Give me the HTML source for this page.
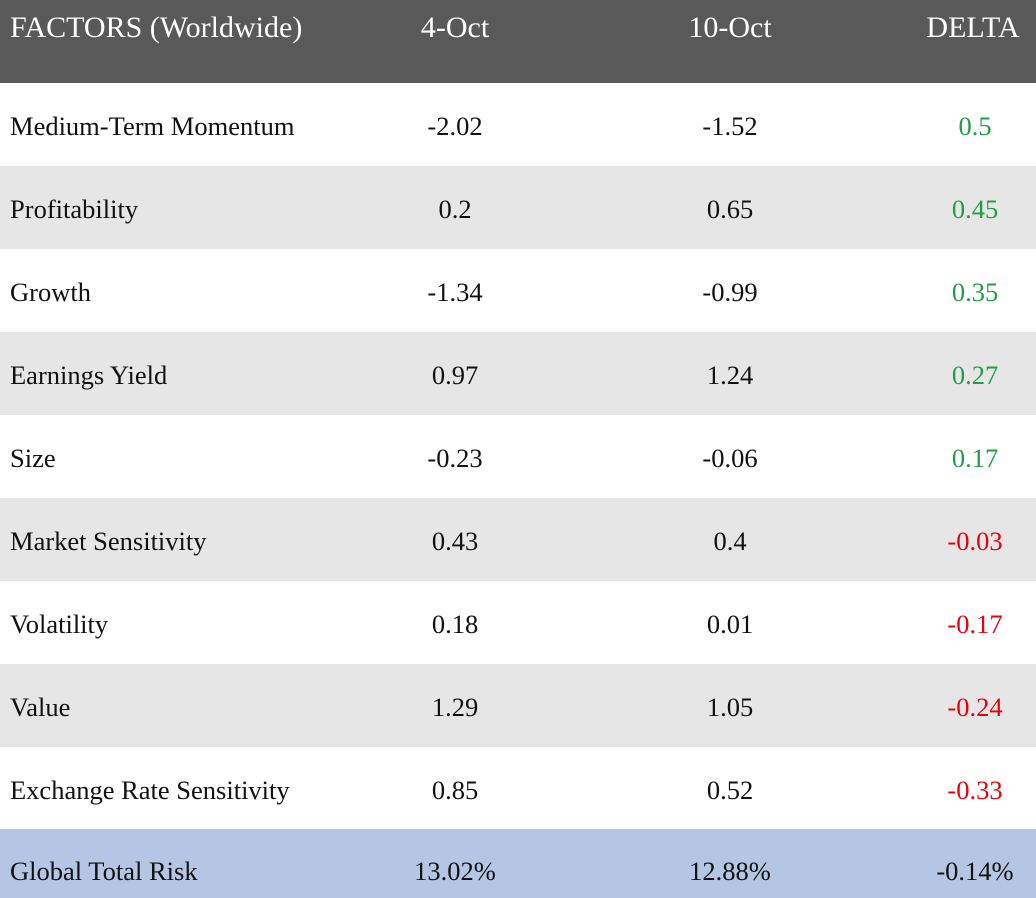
<!DOCTYPE html>
<html><head><meta charset="utf-8">
<style>
html,body{margin:0;padding:0;width:1036px;height:898px;overflow:hidden;background:#fff;position:relative}
.row{position:absolute;left:0;width:1036px;height:83px;font-family:"Liberation Serif",serif;font-size:26.5px;color:#111}
.alt{background:#e6e6e6}
.hdr{background:#595959;color:#fff;font-size:30px;top:0;height:83px}
.total{background:#b4c6e4;height:70px}
.row span{position:absolute;white-space:nowrap;line-height:30px}
.c1{left:10px}
.c2{left:355px;width:200px;text-align:center}
.c3{left:630px;width:200px;text-align:center}
.c4{left:875px;width:200px;text-align:center}
.g{color:#1f9e45}.r{color:#e8000b}
</style></head><body>
<div class="row hdr">
<span class="c1" style="top:13px">FACTORS (Worldwide)</span>
<span class="c2" style="top:13px">4-Oct</span>
<span class="c3" style="top:13px">10-Oct</span>
<span class="c4" style="top:13px;left:873px">DELTA</span>
</div>
<div class="row" style="top:83px"><span class="c1" style="top:28px">Medium-Term Momentum</span><span class="c2" style="top:28px">-2.02</span><span class="c3" style="top:28px">-1.52</span><span class="c4 g" style="top:28px">0.5</span></div>
<div class="row alt" style="top:166px"><span class="c1" style="top:28px">Profitability</span><span class="c2" style="top:28px">0.2</span><span class="c3" style="top:28px">0.65</span><span class="c4 g" style="top:28px">0.45</span></div>
<div class="row" style="top:249px"><span class="c1" style="top:28px">Growth</span><span class="c2" style="top:28px">-1.34</span><span class="c3" style="top:28px">-0.99</span><span class="c4 g" style="top:28px">0.35</span></div>
<div class="row alt" style="top:332px"><span class="c1" style="top:28px">Earnings Yield</span><span class="c2" style="top:28px">0.97</span><span class="c3" style="top:28px">1.24</span><span class="c4 g" style="top:28px">0.27</span></div>
<div class="row" style="top:415px"><span class="c1" style="top:28px">Size</span><span class="c2" style="top:28px">-0.23</span><span class="c3" style="top:28px">-0.06</span><span class="c4 g" style="top:28px">0.17</span></div>
<div class="row alt" style="top:498px"><span class="c1" style="top:28px">Market Sensitivity</span><span class="c2" style="top:28px">0.43</span><span class="c3" style="top:28px">0.4</span><span class="c4 r" style="top:28px">-0.03</span></div>
<div class="row" style="top:581px"><span class="c1" style="top:28px">Volatility</span><span class="c2" style="top:28px">0.18</span><span class="c3" style="top:28px">0.01</span><span class="c4 r" style="top:28px">-0.17</span></div>
<div class="row alt" style="top:664px"><span class="c1" style="top:28px">Value</span><span class="c2" style="top:28px">1.29</span><span class="c3" style="top:28px">1.05</span><span class="c4 r" style="top:28px">-0.24</span></div>
<div class="row" style="top:747px"><span class="c1" style="top:28px">Exchange Rate Sensitivity</span><span class="c2" style="top:28px">0.85</span><span class="c3" style="top:28px">0.52</span><span class="c4 r" style="top:28px">-0.33</span></div>
<div class="row total" style="top:829px"><span class="c1" style="top:27px">Global Total Risk</span><span class="c2" style="top:27px">13.02%</span><span class="c3" style="top:27px">12.88%</span><span class="c4" style="top:27px">-0.14%</span></div>
</body></html>
